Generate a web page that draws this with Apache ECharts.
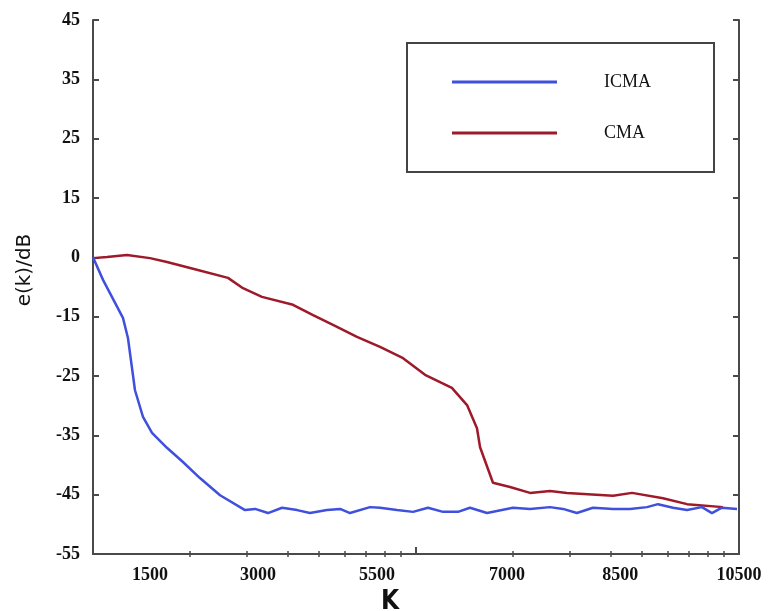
<!DOCTYPE html>
<html>
<head>
<meta charset="utf-8">
<script src="https://cdn.jsdelivr.net/npm/echarts@6/dist/echarts.min.js"></script>
<style>
  html, body { margin: 0; padding: 0; background: #fff; }
  #chart { width: 769px; height: 611px; }
</style>
</head>
<body>
<div id="chart"></div>
<script>
// K axis is drawn on a log scale (two decades), labels are the ones printed on the figure
var xMin = 1000;
var xMax = 100000;
var xLabelText = ["1500", "3000", "5500", "7000", "8500", "10500"];
var xLabelAt = [1500, 3245, 7570, 19140, 42860, 100000];
var xMinorTicks = [2000, 3000, 4000, 5000, 6000, 7000, 8000, 9000,
  20000, 30000, 40000, 50000, 60000, 70000, 80000, 90000];
var xMajorTicks = [10000];

// y tick labels as printed (evenly spaced on the figure)
var yTickLabels = [-55, -45, -35, -25, -15, 0, 15, 25, 35, 45];

var kICMA = [1000, 1074, 1238, 1283, 1349, 1428, 1523, 1694, 1899, 2143, 2474, 2956,
  3175, 3482, 3848, 4285, 4697, 5302, 5821, 6247, 7205, 7738, 8734, 9790, 10890,
  12125, 13490, 14695, 16595, 19965, 22540, 25990, 28510, 31490, 35300, 40740,
  46000, 51900, 56130, 62500, 69040, 76800, 82470, 88510, 98600];
var eICMA = [0, -5.7, -15.2, -18.6, -27.4, -31.9, -34.6, -37.1, -39.5, -42.2, -45.1, -47.6,
  -47.4, -48.1, -47.2, -47.6, -48.1, -47.6, -47.4, -48.1, -47.1, -47.2, -47.6, -47.9, -47.2,
  -47.9, -47.9, -47.2, -48.1, -47.2, -47.4, -47.1, -47.4, -48.1, -47.2, -47.4,
  -47.4, -47.1, -46.6, -47.2, -47.6, -47.1, -48.1, -47.2, -47.4];

var kCMA = [1000, 1105, 1274, 1501, 1694, 2040, 2618, 2913, 3335, 4161, 4800, 5534,
  6565, 7738, 9120, 10665, 12915, 14390, 15445, 15790, 17310, 19545, 22540, 25990,
  29320, 40740, 46650, 58190, 69040, 89150];
var eCMA = [-0.2, 0.1, 0.6, -0.2, -1.2, -2.9, -5.2, -7.8, -10.0, -12.0, -14.6, -16.4,
  -18.4, -20.1, -22.0, -24.8, -27.0, -29.9, -33.8, -37.0, -43.0, -43.7, -44.7, -44.4,
  -44.7, -45.2, -44.7, -45.6, -46.6, -47.1];

// map a dB reading onto the evenly spaced printed ticks
function toSlot(db) {
  for (var i = 0; i < yTickLabels.length - 1; i++) {
    if (db <= yTickLabels[i + 1]) {
      return i + (db - yTickLabels[i]) / (yTickLabels[i + 1] - yTickLabels[i]);
    }
  }
  return yTickLabels.length - 1;
}

function pairs(ks, es) {
  return ks.map(function (k, i) { return [Math.log10(k), toSlot(es[i])]; });
}

var serif = "Liberation Serif, Times New Roman, serif";
var axisColor = "#4a4a4a";

var myChart = echarts.init(document.getElementById("chart"));

var option = {
  backgroundColor: "#fff",
  animation: false,
  grid: {
    left: 93, right: 30, top: 20, bottom: 57,
    outerBoundsMode: "none"
  },
  legend: {
    orient: "vertical",
    left: 447,
    top: 68,
    itemWidth: 105,
    itemHeight: 3,
    itemGap: 33,
    icon: "rect",
    textStyle: {
      fontFamily: serif,
      fontSize: 18,
      color: "#111",
      padding: [0, 0, 0, 42]
    },
    data: ["ICMA", "CMA"]
  },
  graphic: [{
    type: "rect",
    shape: { x: 407, y: 43, width: 307, height: 129 },
    style: { fill: "#fff", stroke: "#444", lineWidth: 2 },
    z: 1
  }],
  xAxis: [{
    type: "value",
    min: Math.log10(xMin),
    max: Math.log10(xMax),
    position: "bottom",
    name: "K",
    nameLocation: "middle",
    nameGap: 30,
    nameTextStyle: {
      fontFamily: "Liberation Sans Narrow, DejaVu Sans Condensed, sans-serif",
      fontWeight: "bold",
      fontSize: 26,
      color: "#111",
      padding: [0, 52, 0, 0]
    },
    axisLine: { show: true, lineStyle: { color: axisColor, width: 2 } },
    axisTick: {
      show: true, inside: true, length: 3,
      customValues: xMinorTicks.map(Math.log10),
      lineStyle: { color: axisColor, width: 1.5 }
    },
    axisLabel: {
      show: true,
      margin: 12,
      fontFamily: serif,
      fontWeight: "bold",
      fontSize: 18,
      color: "#111",
      showMinLabel: true,
      showMaxLabel: true,
      customValues: xLabelAt.map(Math.log10),
      formatter: function (v) {
        for (var i = 0; i < xLabelAt.length; i++) {
          if (Math.abs(Math.log10(xLabelAt[i]) - v) < 1e-6) return xLabelText[i];
        }
        return "";
      }
    },
    splitLine: { show: false }
  }, {
    type: "value",
    min: Math.log10(xMin),
    max: Math.log10(xMax),
    position: "top",
    axisLine: { show: true, lineStyle: { color: axisColor, width: 2 } },
    axisTick: {
      show: true, inside: true, length: 3,
      customValues: xMinorTicks.map(Math.log10),
      lineStyle: { color: axisColor, width: 1.5 }
    },
    axisLabel: { show: false },
    splitLine: { show: false }
  }, {
    type: "value",
    min: Math.log10(xMin),
    max: Math.log10(xMax),
    position: "bottom",
    axisLine: { show: false },
    axisTick: {
      show: true, inside: true, length: 7,
      customValues: xMajorTicks.map(Math.log10),
      lineStyle: { color: axisColor, width: 2 }
    },
    axisLabel: { show: false },
    splitLine: { show: false }
  }],
  yAxis: [{
    type: "value",
    min: 0,
    max: yTickLabels.length - 1,
    interval: 1,
    position: "left",
    name: "e(k)/dB",
    nameLocation: "middle",
    nameGap: 58,
    nameTextStyle: {
      fontFamily: "DejaVu Sans, sans-serif",
      fontSize: 20,
      color: "#111",
      padding: [0, 0, 0, 34]
    },
    axisLine: { show: true, lineStyle: { color: axisColor, width: 2 } },
    axisTick: { show: true, inside: true, length: 6, lineStyle: { color: axisColor, width: 2 } },
    axisLabel: {
      margin: 13,
      fontFamily: serif,
      fontWeight: "bold",
      fontSize: 18,
      color: "#111",
      formatter: function (v) { return String(yTickLabels[Math.round(v)]); }
    },
    splitLine: { show: false }
  }, {
    type: "value",
    min: 0,
    max: yTickLabels.length - 1,
    interval: 1,
    position: "right",
    axisLine: { show: true, lineStyle: { color: axisColor, width: 2 } },
    axisTick: { show: true, inside: true, length: 6, lineStyle: { color: axisColor, width: 2 } },
    axisLabel: { show: false },
    splitLine: { show: false }
  }],
  series: [{
    name: "ICMA",
    type: "line",
    xAxisIndex: 0,
    yAxisIndex: 0,
    showSymbol: false,
    symbol: "none",
    color: "#3f50dc",
    lineStyle: { width: 2.5, color: "#3f50dc" },
    data: pairs(kICMA, eICMA),
    z: 3
  }, {
    name: "CMA",
    type: "line",
    xAxisIndex: 0,
    yAxisIndex: 0,
    showSymbol: false,
    symbol: "none",
    color: "#9e1a2a",
    lineStyle: { width: 2.5, color: "#9e1a2a" },
    data: pairs(kCMA, eCMA),
    z: 2
  }]
};

myChart.setOption(option);
</script>
</body>
</html>
